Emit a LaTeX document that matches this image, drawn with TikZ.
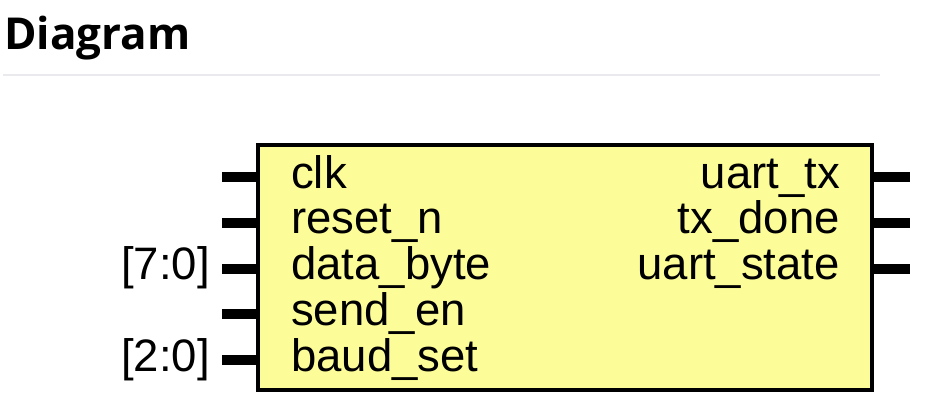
\documentclass[tikz,border=0pt]{standalone}
\usepackage{fontspec}
\setmainfont{Liberation Sans}
\newfontfamily\headfont{Open Sans}
\definecolor{blockfill}{RGB}{252,252,153}
\definecolor{rulegrey}{RGB}{234,234,238}
\begin{document}
\begin{tikzpicture}[x=1pt,y=-1pt,
  pinline/.style={line width=10pt},
  portlabel/.style={font=\fontsize{45.5}{45.5}\selectfont, inner sep=0pt}]
  \useasboundingbox (0,0) rectangle (932,402);

  % Heading
  \node[anchor=base west, inner sep=0pt, font=\headfont\bfseries\fontsize{44}{44}\selectfont] (title) at (4,49) {Diagram};
  \coordinate (ruleL) at (3,75);
  \coordinate (ruleR) at (880,75);
  \draw[rulegrey, line width=2pt] (ruleL) -- (ruleR);

  % Block
  \node[draw, line width=4.5pt, fill=blockfill, anchor=north west, inner sep=0pt, outer sep=0pt,
        minimum width=614pt, minimum height=245pt] (blk) at (258,145) {};

  % Input pins
  \foreach \i/\name in {0/clk,1/reset\_n,2/data\_byte,3/send\_en,4/baud\_set} {
    \coordinate (in\i) at (258,176.7+45.9*\i);
    \coordinate (inend\i) at (222,176.7+45.9*\i);
    \draw[pinline] (inend\i) -- (in\i);
    \node[portlabel, anchor=base west] (inlbl\i) at (291,188+45.9*\i) {\name};
  }
  \node[portlabel, anchor=base east] (bus2) at (210,279.8) {[7:0]};
  \node[portlabel, anchor=base east] (bus4) at (210,371.6) {[2:0]};

  % Output pins
  \foreach \i/\name in {0/uart\_tx,1/tx\_done,2/uart\_state} {
    \coordinate (out\i) at (872,176.7+45.9*\i);
    \coordinate (outend\i) at (910,176.7+45.9*\i);
    \draw[pinline] (out\i) -- (outend\i);
    \node[portlabel, anchor=base east] (outlbl\i) at (840,188+45.9*\i) {\name};
  }
\end{tikzpicture}
\end{document}
